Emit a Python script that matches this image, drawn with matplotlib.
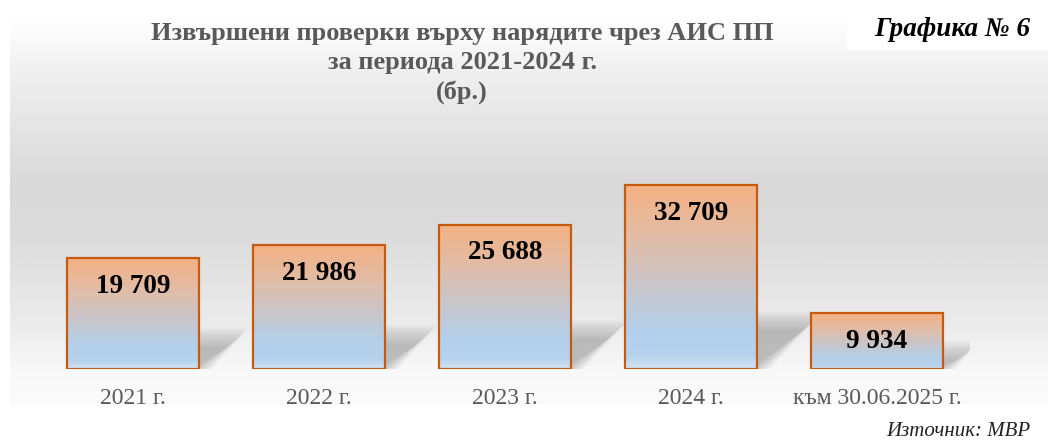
import numpy as np
import matplotlib
matplotlib.use('Agg')
import matplotlib.pyplot as plt
from matplotlib.colors import LinearSegmentedColormap
from matplotlib.patches import Polygon, Rectangle

categories = ['2021 г.', '2022 г.', '2023 г.', '2024 г.', 'към 30.06.2025 г.']
values = [19709, 21986, 25688, 32709, 9934]
value_labels = ['19 709', '21 986', '25 688', '32 709', '9 934']

title = 'Извършени проверки върху нарядите чрез АИС ПП\nза периода 2021-2024 г.\n(бр.)'
chart_no = 'Графика № 6'
source = 'Източник: МВР'

plt.rcParams['font.family'] = ['Liberation Serif', 'DejaVu Serif']

W, H = 1048, 442
fig = plt.figure(figsize=(W / 100, H / 100), dpi=100)
fig.patch.set_facecolor('white')

# background wall with vertical grey gradient
bg = fig.add_axes([0, 0, 1, 1])
bg.set_xlim(0, W)
bg.set_ylim(H, 0)
bg.axis('off')
stops = [(0.0, '#ffffff'), (0.12, '#f1f1f1'), (0.42, '#d9d9d9'), (0.55, '#dbdbdb'),
         (0.80, '#ececec'), (0.91, '#f8f8f8'), (1.0, '#fbfbfb')]
bg_cmap = LinearSegmentedColormap.from_list('bg', stops)
grad = np.linspace(0, 1, 400).reshape(-1, 1)
bg.imshow(grad, cmap=bg_cmap, extent=[10, W, 405, 20], aspect='auto', zorder=0)
bg.add_patch(Rectangle((847, 0), W - 847, 50, facecolor='white', edgecolor='none', zorder=1))

bg.text(462, 63, title, ha='center', va='center', fontsize=19, fontweight='bold',
        color='#595959', linespacing=1.33)
bg.text(1030, 30, chart_no, ha='right', va='center', fontsize=19.5, fontweight='bold',
        fontstyle='italic', color='black')
bg.text(1030, 431, source, ha='right', va='center', fontsize=15, fontstyle='italic',
        color='#222222')

# main plot area
ax_l, ax_r, ax_b, ax_t = 40, 970, 369, 144
ax = fig.add_axes([ax_l / W, (H - ax_b) / H, (ax_r - ax_l) / W, (ax_b - ax_t) / H])
ax.patch.set_alpha(0)
ymax = 40000
px_x = (ax_r - ax_l) / 5.0          # px per x unit
px_y = (ax_b - ax_t) / ymax         # px per y unit

bar_cmap = LinearSegmentedColormap.from_list('bar', [
    (0.0, '#f4b183'), (0.25, '#e4bba2'), (0.55, '#c9c6ca'),
    (0.78, '#b4cfe9'), (0.93, '#b6d2ec'), (1.0, '#d2e3f4')])
bar_grad = np.linspace(0, 1, 200).reshape(-1, 1)
width = 0.71

x = np.arange(len(values))
for xi, v in zip(x, values):
    xl, xr = xi - width / 2, xi + width / 2
    h_px = v * px_y
    # soft perspective shadow
    hs = (0.22 * h_px + 4) / px_y
    dx = (0.22 * h_px + 12) / px_x
    for k in range(16):
        e = (k - 5) * 1.3
        ex, ey = e / px_x, e / px_y
        poly = [(xl, 0), (xr + ex, 0), (xr + dx + ex, hs + ey), (xl + dx, hs + ey)]
        ax.add_patch(Polygon(poly, closed=True, facecolor='#808080', edgecolor='none',
                             alpha=0.035, zorder=1))
    ax.imshow(bar_grad, cmap=bar_cmap, extent=[xl, xr, 0, v], aspect='auto', zorder=2)
    ax.bar(xi, v, width=width, fill=False, edgecolor='#c55a11', linewidth=1.6, zorder=3)

for xi, v, lab in zip(x, values, value_labels):
    ax.annotate(lab, xy=(xi, v), xytext=(0, -20.5), textcoords='offset points',
                ha='center', va='center', fontsize=19.5, fontweight='bold', color='black',
                zorder=4)

for xi, cat in zip(x, categories):
    ax.annotate(cat, xy=(xi, 0), xytext=(0, -21), textcoords='offset points',
                ha='center', va='center', fontsize=17, color='#595959')

ax.set_xlim(-0.5, 4.5)
ax.set_ylim(0, ymax)
ax.axis('off')

fig.savefig('out.png', dpi=100)
plt.close(fig)
